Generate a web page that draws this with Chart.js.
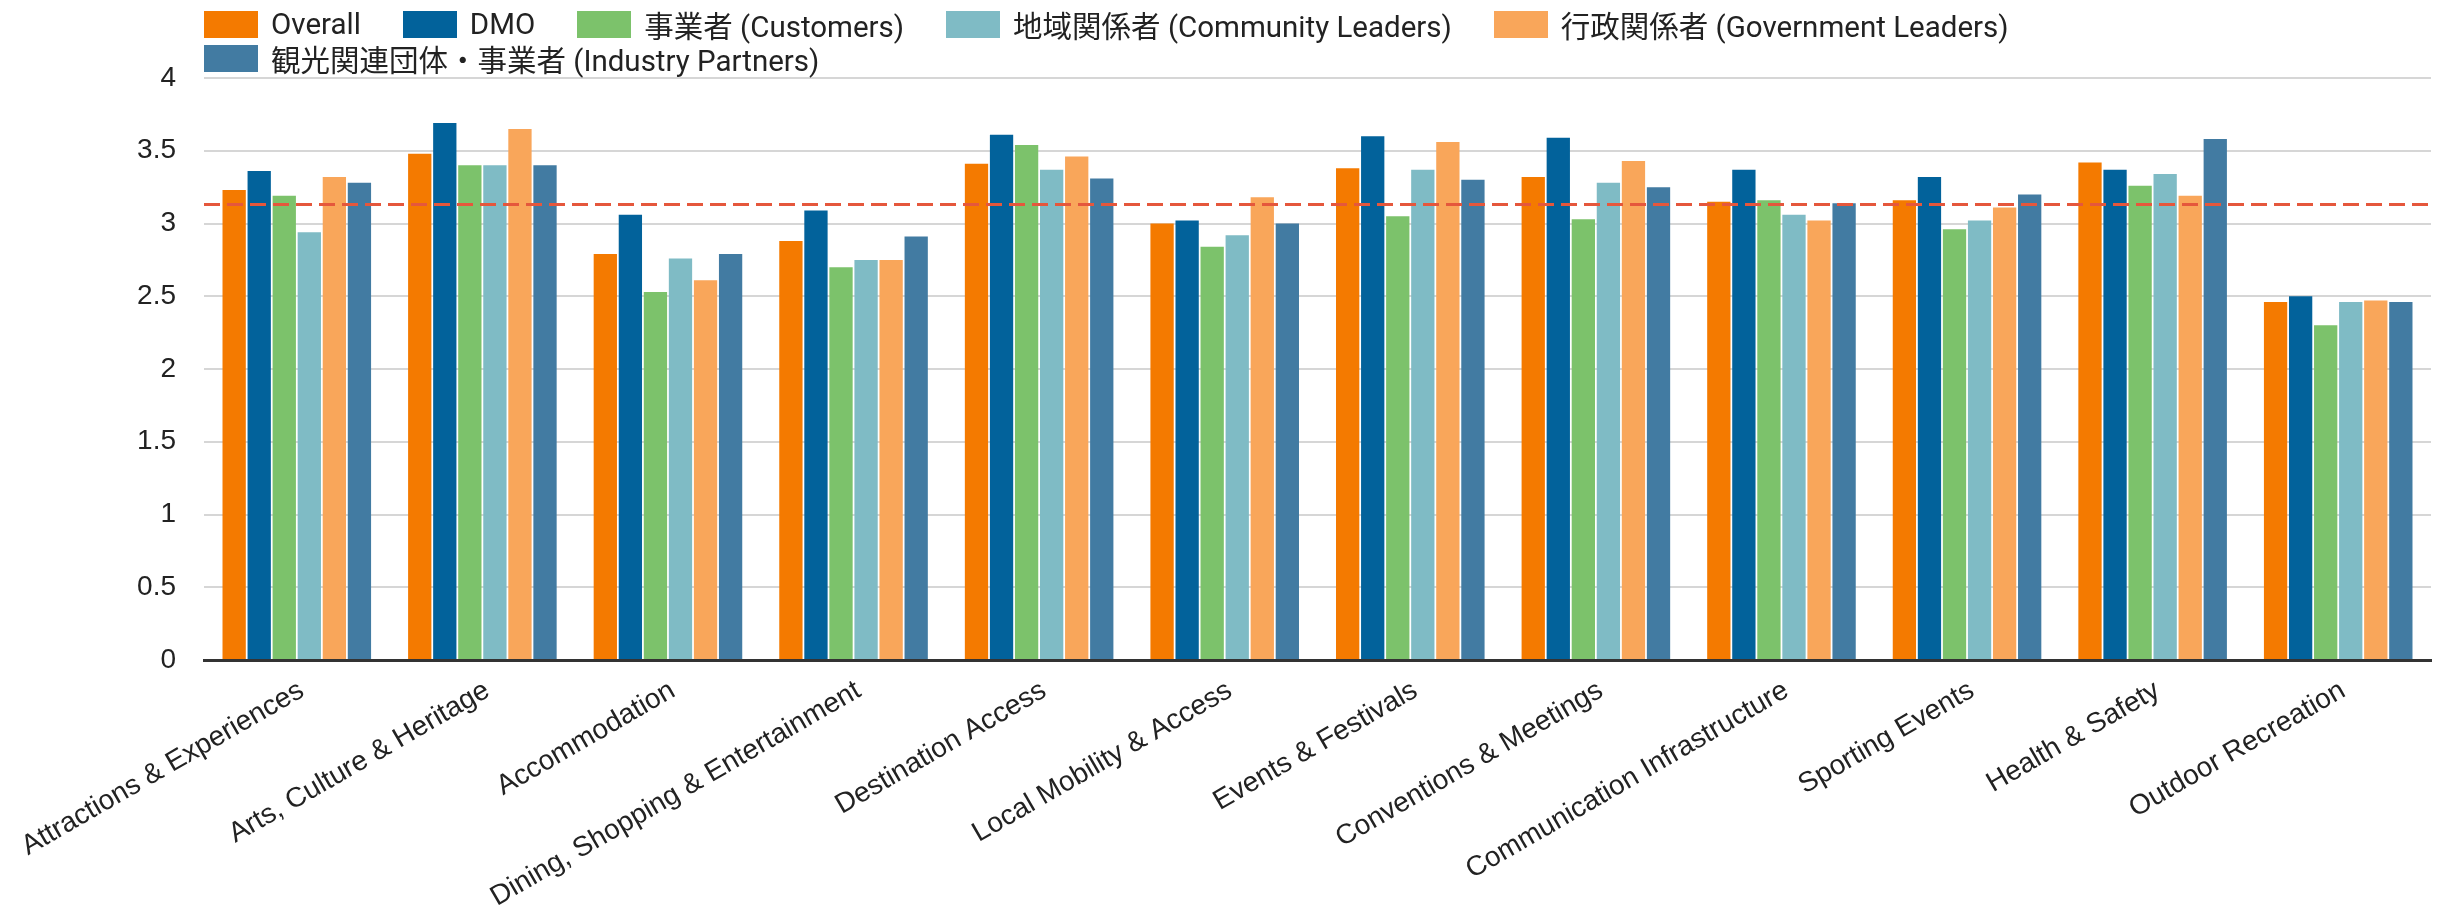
<!DOCTYPE html>
<html lang="ja">
<head>
<meta charset="utf-8">
<title>Tourism asset ratings by stakeholder group</title>
<script src="https://cdn.jsdelivr.net/npm/chart.js@4.4.1/dist/chart.umd.min.js"></script>
<style>
  html, body { margin: 0; padding: 0; background: #ffffff; }
  #wrap   { position: relative; width: 2447px; height: 911px; }
  #legend {
    position: absolute; left: 204px; top: 7px; width: 2224px;
    display: flex; flex-wrap: wrap;
    font-family: Roboto, "Noto Sans CJK JP", sans-serif;
    font-size: 29.5px; color: #222222;
  }
  .legend-item   { display: flex; align-items: center; height: 34px; margin-right: 42px; white-space: nowrap; }
  .legend-swatch { width: 54px; height: 27px; margin-right: 13px; }
</style>
</head>
<body>
<div id="wrap">
  <canvas id="ratingChart" width="2447" height="911"></canvas>
  <div id="legend"></div>
</div>

<script>
// ── DATA ─────────────────────────────────────────────────
const CATEGORIES = [
  "Attractions & Experiences",
  "Arts, Culture & Heritage",
  "Accommodation",
  "Dining, Shopping & Entertainment",
  "Destination Access",
  "Local Mobility & Access",
  "Events & Festivals",
  "Conventions & Meetings",
  "Communication Infrastructure",
  "Sporting Events",
  "Health & Safety",
  "Outdoor Recreation",
];

const SERIES_LABELS = [
  "Overall",
  "DMO",
  "事業者 (Customers)",
  "地域関係者 (Community Leaders)",
  "行政関係者 (Government Leaders)",
  "観光関連団体・事業者 (Industry Partners)",
];

const OVERALL    = [3.23, 3.48, 2.79, 2.88, 3.41, 3.00, 3.38, 3.32, 3.15, 3.16, 3.42, 2.46];
const DMO        = [3.36, 3.69, 3.06, 3.09, 3.61, 3.02, 3.60, 3.59, 3.37, 3.32, 3.37, 2.50];
const CUSTOMERS  = [3.19, 3.40, 2.53, 2.70, 3.54, 2.84, 3.05, 3.03, 3.16, 2.96, 3.26, 2.30];
const COMMUNITY  = [2.94, 3.40, 2.76, 2.75, 3.37, 2.92, 3.37, 3.28, 3.06, 3.02, 3.34, 2.46];
const GOVERNMENT = [3.32, 3.65, 2.61, 2.75, 3.46, 3.18, 3.56, 3.43, 3.02, 3.11, 3.19, 2.47];
const INDUSTRY   = [3.28, 3.40, 2.79, 2.91, 3.31, 3.00, 3.30, 3.25, 3.14, 3.20, 3.58, 2.46];

// dashed reference line (overall average)
const AVERAGE = 3.13;

const Y_MIN  = 0;
const Y_MAX  = 4;
const Y_STEP = 0.25;   // gridlines every 0.25, labels every 0.5

// ── STYLE ────────────────────────────────────────────────
const AXIS_FONT = '"Liberation Sans", Arial, sans-serif';
const COLORS = ["#f47a00", "#02629b", "#7cc26b", "#7fbbc5", "#f9a65a", "#427ba2"];

// ── AVERAGE LINE PLUGIN ─────────────────────────────────
const averageLine = {
  id: "averageLine",
  afterDatasetsDraw(chart) {
    const { ctx, chartArea, scales: { y } } = chart;
    const py = y.getPixelForValue(AVERAGE);
    ctx.save();
    ctx.strokeStyle = "#e5573c";
    ctx.lineWidth   = 3;
    ctx.setLineDash([16, 7]);
    ctx.beginPath();
    ctx.moveTo(chartArea.left, py);
    ctx.lineTo(chartArea.right, py);
    ctx.stroke();
    ctx.restore();
  },
};

// ── CHART ────────────────────────────────────────────────
const seriesValues = [OVERALL, DMO, CUSTOMERS, COMMUNITY, GOVERNMENT, INDUSTRY];

const chart = new Chart(document.getElementById("ratingChart"), {
  type: "bar",
  data: {
    labels: CATEGORIES,
    datasets: seriesValues.map((vals, i) => ({
      label:              SERIES_LABELS[i],
      data:               vals,
      backgroundColor:    COLORS[i],
      borderWidth:        0,
      categoryPercentage: 0.81,
      barPercentage:      0.93,
    })),
  },
  options: {
    responsive: false,
    animation:  false,
    layout: { padding: { top: 78, right: 16, bottom: 0, left: 0 } },
    plugins: {
      legend:  { display: false },
      tooltip: { enabled: false },
    },
    scales: {
      x: {
        grid:   { display: false },
        border: { color: "#333333", width: 3 },
        ticks: {
          color: "#222222",
          font: { family: AXIS_FONT, size: 28 },
          minRotation: 30,
          maxRotation: 30,
          autoSkip: false,
          padding: 6,
          labelOffset: 5,
        },
        afterFit(scale) {
          scale.height = 251;
          scale.paddingLeft = 0;
          scale.paddingRight = 0;
        },
      },
      y: {
        min: Y_MIN,
        max: Y_MAX,
        grid:   { color: "#d6d6d6", lineWidth: 2, drawTicks: false },
        border: { display: false },
        ticks: {
          stepSize: Y_STEP,
          color: "#222222",
          font: { family: AXIS_FONT, size: 28 },
          padding: 28,
          callback: v => (Math.round(v / Y_STEP) % 2 === 0 ? String(v) : ""),
        },
        afterFit(scale) { scale.width = 204; },
      },
    },
  },
  plugins: [averageLine],
});

// ── HTML LEGEND ──────────────────────────────────────────
const legendEl = document.getElementById("legend");
chart.data.datasets.forEach(ds => {
  const item = document.createElement("div");
  item.className = "legend-item";
  const sw = document.createElement("span");
  sw.className = "legend-swatch";
  sw.style.background = ds.backgroundColor;
  const txt = document.createElement("span");
  txt.textContent = ds.label;
  item.appendChild(sw);
  item.appendChild(txt);
  legendEl.appendChild(item);
});
</script>
</body>
</html>
